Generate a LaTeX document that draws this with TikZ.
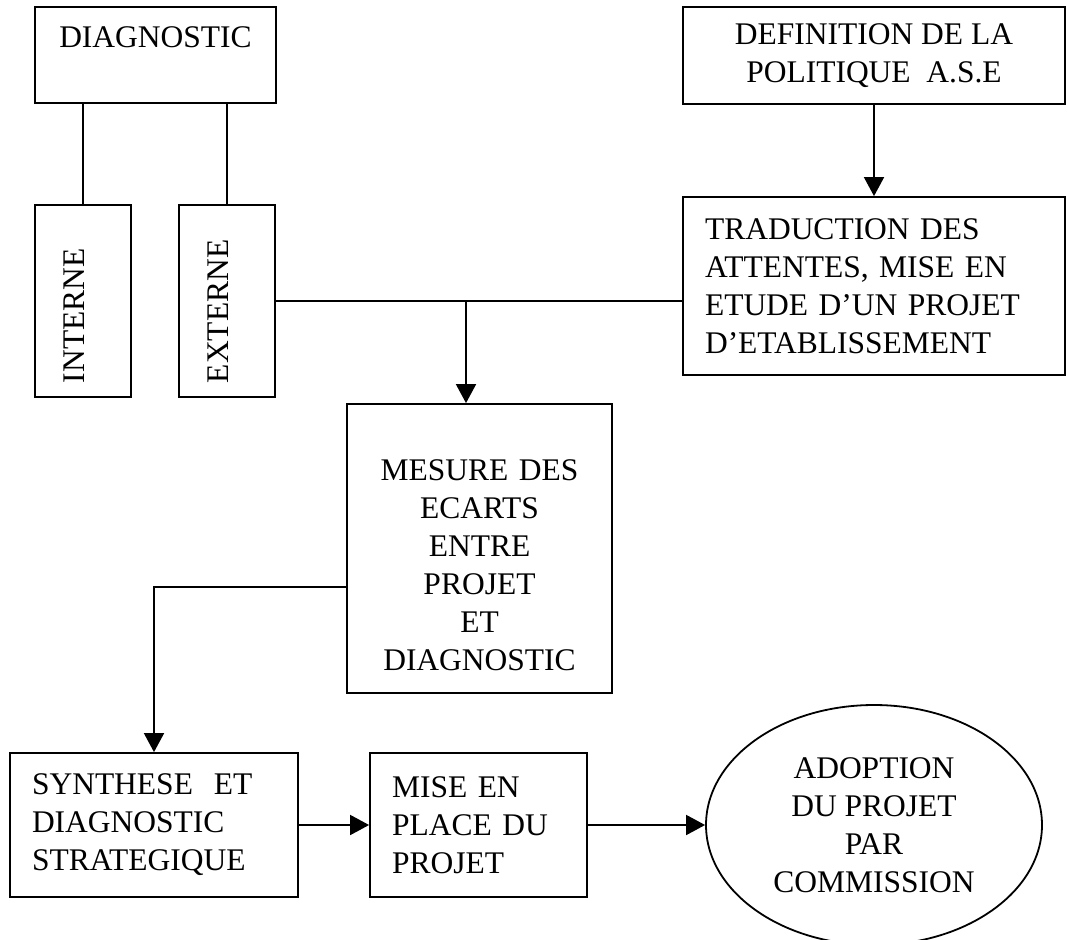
\documentclass[tikz,border=0pt]{standalone}
\usepackage{fontspec}
\setmainfont{Liberation Serif}
\usetikzlibrary{positioning,shapes.geometric,arrows.meta}

\begin{document}
\begin{tikzpicture}[x=1pt,y=-1pt,font=\fontsize{31.5}{38}\selectfont]
        \tikzstyle{block}=[draw,line width=1.8pt,inner sep=0pt]
        \tikzstyle{side block}=[block,rotate=90,minimum width=192pt,minimum height=96pt,text width=164pt,text depth=17pt,align=left]
        \tikzstyle{left block}=[block,inner xsep=22pt,align=left]
        \tikzstyle{goal}=[ellipse,draw,line width=1.8pt,inner sep=0pt,minimum width=336pt,minimum height=240pt,align=center]
        \tikzstyle{link}=[line width=1.8pt]
        \tikzstyle{link arrow}=[link,-{Triangle[length=19pt,width=20pt]}]

        \useasboundingbox (0,0) rectangle (1067,939);

        % Diagnostic
        \node[block,minimum width=241pt,text height=41pt,text depth=55pt] (diag) at (155.5,55) {DIAGNOSTIC};
        \node[side block] (int) at (83,301) {INTERNE};
        \node[side block] (ext) at (227,301) {EXTERNE};

        % Politique
        \node[block,minimum width=382pt,minimum height=97pt,align=center] (def) at (874,55.5) {DEFINITION DE LA\\POLITIQUE~~A.S.E};
        \node[left block,text width=338pt,minimum height=178pt] (trad) at (874,286) {TRADUCTION DES\\ATTENTES, MISE EN\\ETUDE D’UN PROJET\\D’ETABLISSEMENT};

        % Ecarts
        \node[block,text width=265pt,align=center,text height=76pt,text depth=213pt] (mes) at (479.5,548.5) {MESURE DES\\ECARTS\\ENTRE\\PROJET\\ET\\DIAGNOSTIC};

        % Bottom row
        \node[left block,text width=244pt,minimum height=144pt] (synth) at (154,825) {SYNTHESE~~ET\\DIAGNOSTIC\\STRATEGIQUE};
        \node[left block,text width=173pt,minimum height=144pt] (mise) at (478.5,825) {MISE EN\\PLACE DU\\PROJET};
        \node[goal] (adopt) at (874,825) {ADOPTION\\DU PROJET\\PAR\\COMMISSION};

        % Connect nodes
        \coordinate (junc) at (466,301);
        \draw[link] (diag.south -| int.east) -- (int.east);
        \draw[link] (diag.south -| ext.east) -- (ext.east);
        \draw[link] (ext.south) -- (trad.west |- ext.south);
        \draw[link arrow] (junc) -- (junc |- mes.north);
        \draw[link arrow] (def.south) -- (trad.north);
        \draw[link arrow] ([yshift=-38.5pt]mes.west) -| (synth.north);
        \draw[link arrow] (synth.east) -- (mise.west);
        \draw[link arrow] (mise.east) -- (adopt.west);

\end{tikzpicture}
\end{document}
